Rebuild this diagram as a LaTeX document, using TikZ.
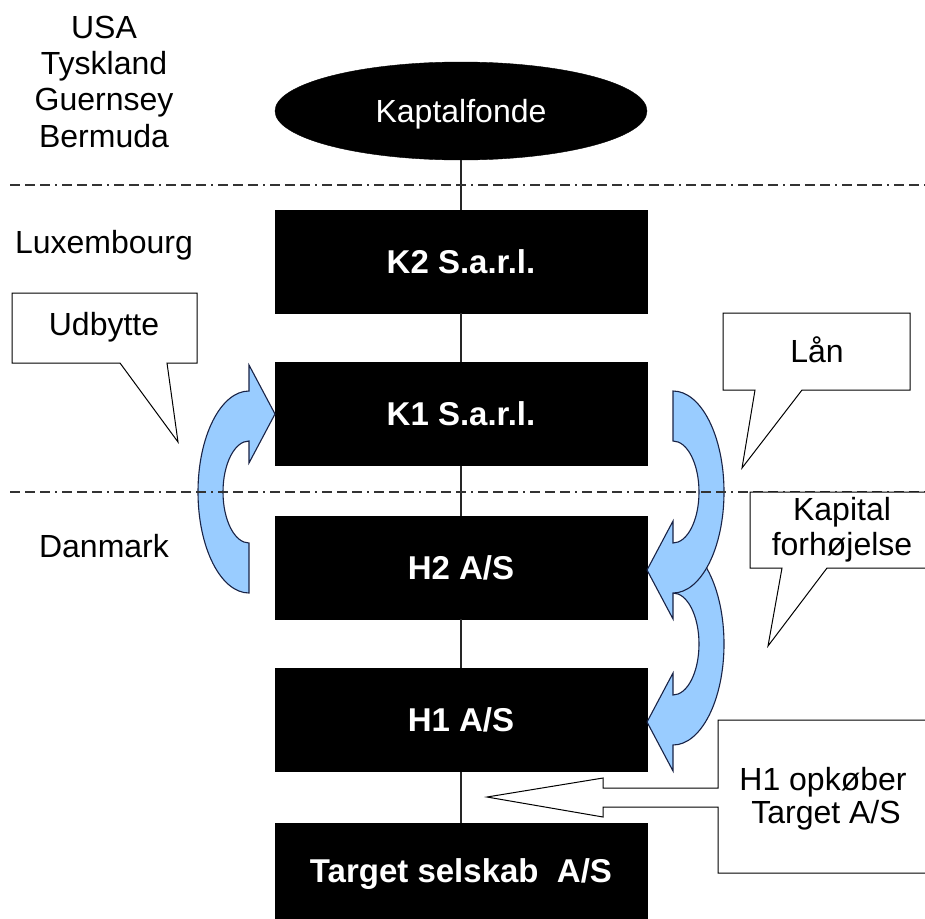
\documentclass[tikz,border=0pt]{standalone}
\usepackage{fontspec}
\setmainfont{Liberation Sans}
\usetikzlibrary{shapes.geometric}

\definecolor{flowblue}{RGB}{153,204,255}
\definecolor{flowedge}{RGB}{25,35,70}

\tikzset{
  lbl/.style={font=\fontsize{32}{37}\selectfont, inner sep=0pt, anchor=base, align=center},
  entity/.style={rectangle, fill=black, draw=black, minimum width=372pt, minimum height=103pt,
    inner sep=0pt, text=white, font=\bfseries\fontsize{33}{38}\selectfont,
    text height=23pt, text depth=0pt},
  fund/.style={ellipse, fill=black, draw=black, minimum width=372pt, minimum height=98pt,
    inner sep=0pt, text=white, font=\fontsize{32}{37}\selectfont,
    text height=23pt, text depth=0pt},
  owner/.style={draw=black!85, line width=1.2pt},
  border/.style={draw=black!80, line width=1.5pt,
    dash pattern=on 10pt off 5pt on 10pt off 5pt on 10pt off 5pt on 2pt off 5pt},
  note/.style={fill=white, draw=black, line width=1pt, line join=miter},
  bendarrow/.pic={
    \filldraw[fill=flowblue, draw=flowedge, line width=1.1pt, line join=miter]
      (0,101) arc[start angle=90, end angle=270, x radius=51, y radius=101]
      -- (0,-127) -- (26,-78) -- (0,-29) -- (0,-51)
      arc[start angle=270, end angle=90, x radius=26, y radius=51] -- cycle;
  }
}

\begin{document}
\begin{tikzpicture}[x=1pt, y=-1pt]
  \clip (0,0) rectangle (925,918);
  \fill[white] (0,0) rectangle (925,918);

  % ownership chain
  \node[fund]   (kf) at (461,111)   {Kaptalfonde};
  \node[entity] (k2) at (461,261.5) {K2 S.a.r.l.};
  \node[entity] (k1) at (461,414)   {K1 S.a.r.l.};
  \node[entity] (h2) at (461,567.5) {H2 A/S};
  \node[entity] (h1) at (461,720)   {H1 A/S};
  \node[entity, minimum height=95pt] (tg) at (461,870.5) {Target selskab\ \ A/S};

  \draw[owner] (kf.south) -- (k2.north);
  \draw[owner] (k2.south) -- (k1.north);
  \draw[owner] (k1.south) -- (h2.north);
  \draw[owner] (h2.south) -- (h1.north);
  \draw[owner] (h1.south) -- (tg.north);

  % money flows
  \pic at (249,492) {bendarrow};
  \pic[rotate=180] at (673,644) {bendarrow};
  \pic[rotate=180] at (673,492) {bendarrow};

  % country borders
  \draw[border] (10,185) -- (925,185);
  \draw[border] (10,492) -- (925,492);

  % country labels
  \node[lbl] (usa) at (104,38)  {USA};
  \node[lbl] (de)  at (104,74)  {Tyskland};
  \node[lbl] (gg)  at (104,110) {Guernsey};
  \node[lbl] (bm)  at (104,147) {Bermuda};
  \node[lbl] (lu)  at (104,253) {Luxembourg};
  \node[lbl] (dk)  at (104,557) {Danmark};

  % callouts
  \draw[note] (12,293) -- (197,293) -- (197,363) -- (167,363) -- (178,442)
    -- (120,363) -- (12,363) -- cycle;
  \node[lbl] (udb) at (104,335) {Udbytte};

  \draw[note] (723,313) -- (910,313) -- (910,390) -- (802,390) -- (742,468)
    -- (755,390) -- (723,390) -- cycle;
  \node[lbl] (laan) at (817,362) {Lån};

  \draw[note] (750,492) -- (935,492) -- (935,568) -- (827,568) -- (768,646)
    -- (782,568) -- (750,568) -- cycle;
  \node[lbl] (kap1) at (842,520) {Kapital};
  \node[lbl] (kap2) at (842,555) {forhøjelse};

  \draw[note] (718,720) -- (935,720) -- (935,873) -- (718,873) -- (718,807)
    -- (603,807) -- (603,817) -- (487,797) -- (603,778) -- (603,788)
    -- (718,788) -- cycle;
  \node[lbl] (buy1) at (823,790) {H1 opkøber};
  \node[lbl] (buy2) at (826,823) {Target A/S};
\end{tikzpicture}
\end{document}
